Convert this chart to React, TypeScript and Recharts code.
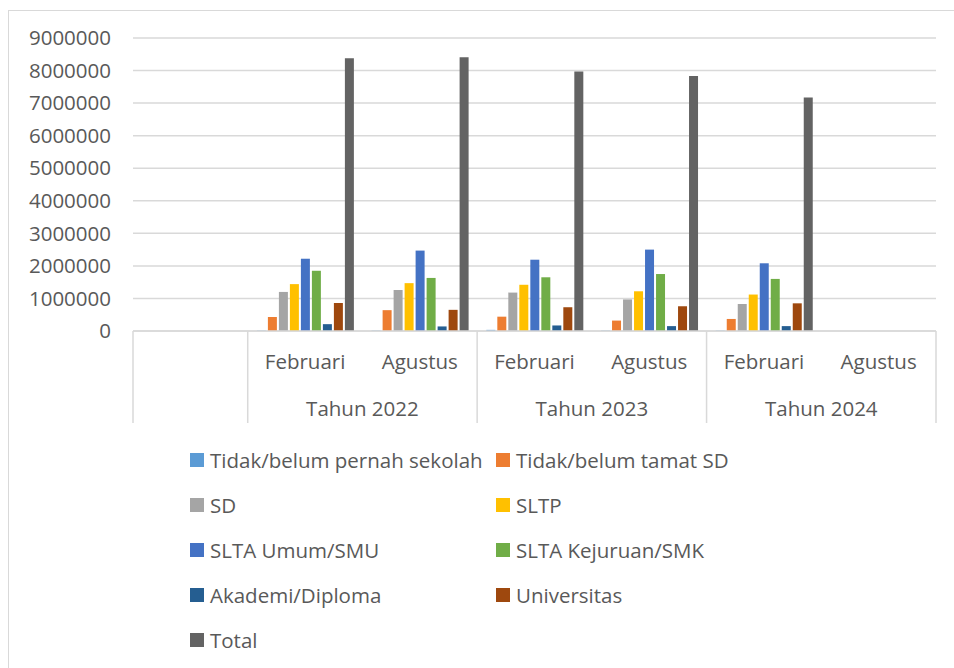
import React from 'react';
import { BarChart, Bar, XAxis, YAxis, CartesianGrid } from 'recharts';

// kategori dua tingkat: bulan (bawah) dan tahun (grup)
const bulan = ['', 'Februari', 'Agustus', 'Februari', 'Agustus', 'Februari', 'Agustus'];
const tahun = ['', 'Tahun 2022', 'Tahun 2022', 'Tahun 2023', 'Tahun 2023', 'Tahun 2024', 'Tahun 2024'];

const seriesNames = [
  'Tidak/belum pernah sekolah',
  'Tidak/belum tamat SD',
  'SD',
  'SLTP',
  'SLTA Umum/SMU',
  'SLTA Kejuruan/SMK',
  'Akademi/Diploma',
  'Universitas',
  'Total',
];

const seriesColors = [
  '#5B9BD5',
  '#ED7D31',
  '#A5A5A5',
  '#FFC000',
  '#4472C4',
  '#70AD47',
  '#255E91',
  '#9E480E',
  '#636363',
];

// nilai per seri, urutan sesuai kategori di atas (null = kosong)
const tidakSekolah = [null, 10000, 10000, 35000, 10000, 10000, null];
const tidakTamatSD = [null, 430000, 640000, 440000, 320000, 370000, null];
const sd = [null, 1200000, 1260000, 1180000, 970000, 830000, null];
const sltp = [null, 1440000, 1470000, 1420000, 1220000, 1120000, null];
const sltaUmum = [null, 2220000, 2470000, 2190000, 2500000, 2080000, null];
const sltaKejuruan = [null, 1850000, 1630000, 1650000, 1750000, 1600000, null];
const akademi = [null, 210000, 140000, 170000, 150000, 150000, null];
const universitas = [null, 860000, 650000, 730000, 760000, 850000, null];
const total = [null, 8380000, 8410000, 7970000, 7830000, 7170000, null];

const yTicks = [0, 1000000, 2000000, 3000000, 4000000, 5000000, 6000000, 7000000, 8000000, 9000000];

const allValues = [tidakSekolah, tidakTamatSD, sd, sltp, sltaUmum, sltaKejuruan, akademi, universitas, total];

const data = bulan.map((b, i) => {
  const row: Record<string, any> = { key: `k${i}`, bulan: b, tahun: tahun[i] };
  seriesNames.forEach((n, s) => {
    row[n] = allValues[s][i];
  });
  return row;
});

const FONT = '"Open Sans", sans-serif';
const TEXT = '#595959';
const GRID = '#D9D9D9';

const CHART_W = 954;
const CHART_H = 668;
const PLOT_LEFT = 133;
const PLOT_RIGHT = 18;
const BAND = (CHART_W - PLOT_LEFT - PLOT_RIGHT) / bulan.length;

function KategoriTick(props: any) {
  const { x, y, payload } = props;
  const i = payload.index as number;
  const half = BAND / 2;
  const startGroup = i === 0 || tahun[i] !== tahun[i - 1];
  const endGroup = i === tahun.length - 1;
  // panjang grup untuk label tahun
  let len = 1;
  while (i + len < tahun.length && tahun[i + len] === tahun[i]) len++;

  return (
    <g>
      {startGroup && (
        <line x1={x - half} x2={x - half} y1={y} y2={y + 92} stroke={GRID} strokeWidth={1.5} />
      )}
      {endGroup && (
        <line x1={x + half} x2={x + half} y1={y} y2={y + 92} stroke={GRID} strokeWidth={1.5} />
      )}
      <text
        x={x}
        y={y + 31}
        dy="0.35em"
        textAnchor="middle"
        fill={TEXT}
        fontFamily={FONT}
        fontSize={20.5}
      >
        {bulan[i]}
      </text>
      {startGroup && tahun[i] && (
        <text
          x={x - half + (BAND * len) / 2}
          y={y + 78}
          dy="0.35em"
          textAnchor="middle"
          fill={TEXT}
          fontFamily={FONT}
          fontSize={20.5}
        >
          {tahun[i]}
        </text>
      )}
    </g>
  );
}

function Legenda() {
  return (
    <div
      style={{
        position: 'absolute',
        left: 190,
        top: 437,
        display: 'grid',
        gridTemplateColumns: '306px 300px',
        rowGap: 0,
        fontFamily: FONT,
        fontSize: 20.5,
        color: TEXT,
      }}
    >
      {seriesNames.map((n, i) => (
        <div key={n} style={{ display: 'flex', alignItems: 'center', height: 45, whiteSpace: 'nowrap' }}>
          <span
            style={{
              display: 'inline-block',
              width: 14,
              height: 14,
              background: seriesColors[i],
              marginRight: 6,
            }}
          />
          {n}
        </div>
      ))}
    </div>
  );
}

export default function App() {
  return (
    <div style={{ position: 'relative', width: CHART_W, height: CHART_H, overflow: 'hidden', background: '#fff' }}>
      <style>{'body{margin:0;overflow:hidden}'}</style>
      <div
        style={{
          position: 'absolute',
          left: 8,
          top: 10,
          width: 980,
          height: 700,
          border: `1.5px solid ${GRID}`,
        }}
      />
      <div style={{ position: 'absolute', left: 0, top: 0 }}>
        <BarChart
          width={CHART_W}
          height={CHART_H}
          data={data}
          margin={{ top: 38, right: PLOT_RIGHT, left: 0, bottom: CHART_H - 331 - 92 }}
          barCategoryGap="8%"
          barGap={2}
        >
          <CartesianGrid vertical={false} stroke={GRID} strokeWidth={1.5} />
          <XAxis
            dataKey="key"
            interval={0}
            height={92}
            tickLine={false}
            tickSize={0}
            tickMargin={0}
            axisLine={{ stroke: GRID, strokeWidth: 1.5 }}
            tick={<KategoriTick />}
          />
          <YAxis
            width={PLOT_LEFT}
            domain={[0, 9000000]}
            ticks={yTicks}
            interval={0}
            axisLine={false}
            tickLine={false}
            tickSize={0}
            tickMargin={22}
            tick={{ fill: TEXT, fontSize: 20.5, fontFamily: FONT }}
          />
          {seriesNames.map((n, i) => (
            <Bar key={n} dataKey={n} fill={seriesColors[i]} isAnimationActive={false} />
          ))}
        </BarChart>
      </div>
      <Legenda />
    </div>
  );
}
